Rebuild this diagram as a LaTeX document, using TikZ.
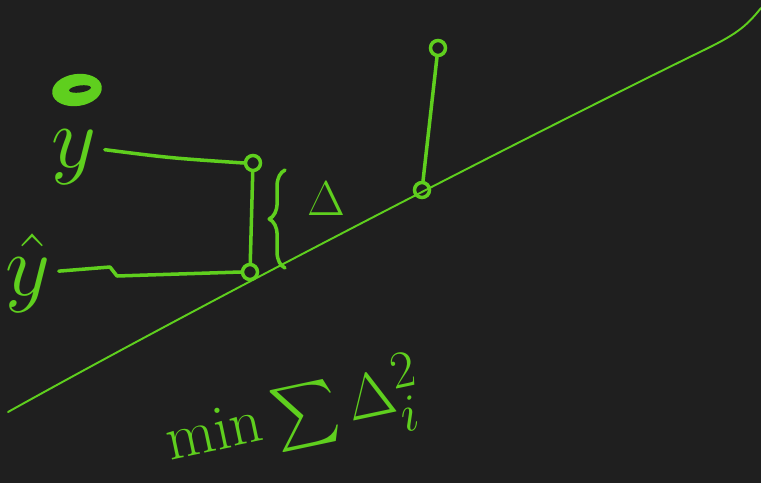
\documentclass[tikz,border=0pt]{standalone}
\usepackage{amsmath,amssymb}
\usepackage{graphicx}
\usepackage{tikz}
\usetikzlibrary{positioning, calc, decorations.pathreplacing}
\usepackage{xcolor}
\definecolor{board}{HTML}{1F1F1F}
\definecolor{chalk}{HTML}{5FCF1E}
\newcommand{\chalktext}[2]{\scalebox{#1}{\Huge #2}}

\begin{document}
\begin{tikzpicture}[
    x=0.02cm, y=-0.02cm,
    ink/.style={draw=chalk, line width=2pt, line cap=round, line join=round},
    fitline/.style={draw=chalk, line width=1.1pt, line cap=round},
    pt/.style={circle, draw=chalk, line width=2pt, minimum size=0.3cm, inner sep=0pt},
    lbl/.style={text=chalk, inner sep=0pt}
]
\fill[board] (0,0) rectangle (761,483);
\useasboundingbox (0,0) rectangle (761,483);

% fitted line
\draw[fitline] (8,412) .. controls (200,305) and (500,150) .. (700,52)
    .. controls (735,35) and (745,28) .. (761,8);

% scribbled mark
\fill[chalk, rotate around={8:(77,90)}] (77,90) ellipse [x radius=0.5cm, y radius=0.32cm];
\fill[board, rotate around={8:(80,89)}] (80,89) ellipse [x radius=0.22cm, y radius=0.07cm];

% observed and fitted points
\node[pt] (obs1) at (253,163) {};
\node[pt] (fit1) at (250,272) {};
\node[pt] (obs2) at (438,48) {};
\node[pt] (fit2) at (422,190) {};

\draw[ink] (obs1) -- (fit1);
\draw[ink] (obs2) -- (fit2);

% axis labels
\node[lbl, anchor=base] (ylab) at (74,168) {\chalktext{2}{$y$}};
\node[lbl, anchor=base] (yhat) at (28,295) {\chalktext{2}{$\hat{y}$}};

\draw[ink] (ylab.east) ++(8,-8) .. controls (170,158) .. (obs1.west);
\draw[ink] (yhat.east) ++(8,-2) -- (110,267) -- (117,276) -- (fit1.west);

% residual
\draw[ink, decorate, decoration={brace, amplitude=9pt}] (285,268) -- (285,170);
\node[lbl] (dlt) at (326,199) {\chalktext{1.12}{$\Delta$}};

% objective
\node[lbl, rotate=12] (goal) at (294,416) {\chalktext{1.45}{$\min\sum\Delta_i^2$}};
\end{tikzpicture}
\end{document}
